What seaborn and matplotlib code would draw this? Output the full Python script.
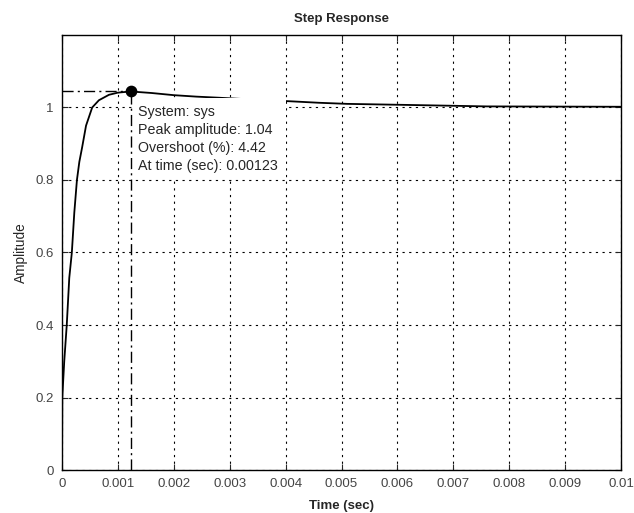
import matplotlib
matplotlib.use("Agg")
import matplotlib.pyplot as plt
from matplotlib.patches import Rectangle
import seaborn as sns
import pandas as pd

# Step response samples (time in seconds, amplitude)
time_s = [0.0, 0.000005, 0.00004, 0.000085, 0.00013, 0.000176, 0.00022,
          0.000267, 0.00031, 0.00036, 0.00043, 0.00054, 0.00066, 0.00084,
          0.00100, 0.00123, 0.0016, 0.0020, 0.0024, 0.0028, 0.0034, 0.0041,
          0.0046, 0.0051, 0.0062, 0.0076, 0.0100]
amplitude = [0.0, 0.2, 0.30, 0.40, 0.53, 0.60, 0.71,
             0.80, 0.85, 0.89, 0.95, 1.00, 1.02, 1.035,
             1.041, 1.0442, 1.040, 1.034, 1.030, 1.027, 1.022, 1.017,
             1.013, 1.010, 1.007, 1.003, 1.002]

# Peak characteristic
peak_time = 0.00123
peak_amp = 1.0442
overshoot_pct = 4.42
system_name = "sys"

x_ticks = [0, 0.001, 0.002, 0.003, 0.004, 0.005, 0.006, 0.007, 0.008, 0.009, 0.01]
x_tick_labels = ["0", "0.001", "0.002", "0.003", "0.004", "0.005", "0.006",
                 "0.007", "0.008", "0.009", "0.01"]
y_ticks = [0, 0.2, 0.4, 0.6, 0.8, 1.0]
y_tick_labels = ["0", "0.2", "0.4", "0.6", "0.8", "1"]

sns.set_style("ticks")
plt.rcParams["font.family"] = ["Liberation Sans", "DejaVu Sans"]

df = pd.DataFrame({"t": time_s, "y": amplitude})

fig = plt.figure(figsize=(6.34, 5.13), dpi=100)
ax = fig.add_axes([0.0978, 0.0838, 0.8817, 0.848])

sns.lineplot(data=df, x="t", y="y", estimator=None, sort=False,
             color="black", linewidth=1.3, ax=ax, zorder=3)

ax.set_xlim(0, 0.01)
ax.set_ylim(0, 1.2)
ax.set_xticks(x_ticks)
ax.set_xticklabels(x_tick_labels)
ax.set_yticks(y_ticks)
ax.set_yticklabels(y_tick_labels)

ax.grid(True, linestyle=(0, (2, 4)), color="black", linewidth=0.8)
ax.set_axisbelow(True)

ax.tick_params(direction="in", length=4, width=0.8, top=True, right=True,
               labelsize=9.5, labelcolor="#444444", pad=6)
for sp in ax.spines.values():
    sp.set_linewidth(1.0)
    sp.set_color("black")

# Peak guides and marker
ax.plot([0, peak_time], [peak_amp, peak_amp], color="black", linewidth=1.0,
        linestyle=(0, (8, 3, 1.5, 3)), zorder=3)
ax.plot([peak_time, peak_time], [0, peak_amp], color="black", linewidth=1.0,
        linestyle=(0, (8, 3, 1.5, 3)), zorder=3)
ax.scatter([peak_time], [peak_amp], s=55, color="black", zorder=6)

# Data tip panel
ax.add_patch(Rectangle((0.00127, 0.806), 0.00273, 0.221, facecolor="white",
                       edgecolor="none", zorder=4))
tip = (f"System: {system_name}\n"
       f"Peak amplitude: {peak_amp:.2f}\n"
       f"Overshoot (%): {overshoot_pct:.2f}\n"
       f"At time (sec): {peak_time:.5f}")
ax.text(0.00136, 1.008, tip, fontsize=10.3, va="top", ha="left",
        linespacing=1.39, zorder=5)

ax.set_title("Step Response", fontsize=9.5, fontweight="bold", pad=9)
ax.set_xlabel("Time (sec)", fontsize=9.5, fontweight="bold", labelpad=7)
ax.set_ylabel("Amplitude", fontsize=9.8, labelpad=5)

fig.savefig("out.png", dpi=100)
